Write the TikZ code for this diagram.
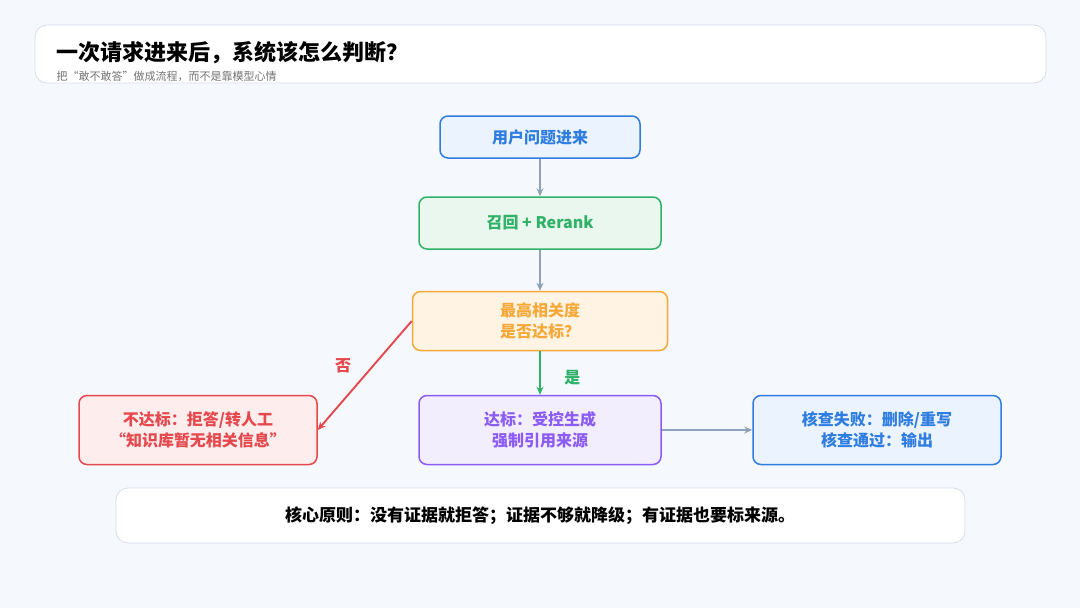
\documentclass[tikz,border=0pt]{standalone}
\usepackage{fontspec}
\setmainfont{Noto Sans CJK SC}
\usetikzlibrary{arrows.meta,positioning}
\definecolor{bgc}{HTML}{F5F8FC}
\definecolor{edgec}{HTML}{D5DEEA}
\definecolor{bluec}{HTML}{2F7DE1}
\definecolor{bluef}{HTML}{EAF3FE}
\definecolor{greenc}{HTML}{2FB268}
\definecolor{greenf}{HTML}{EAF7EE}
\definecolor{orangec}{HTML}{F5A93B}
\definecolor{orangef}{HTML}{FFF4E3}
\definecolor{redc}{HTML}{E5484D}
\definecolor{redf}{HTML}{FDEDED}
\definecolor{purplec}{HTML}{8B5CF6}
\definecolor{purplef}{HTML}{F3EEFE}
\definecolor{grayc}{HTML}{8FA3B8}
\begin{document}
\begin{tikzpicture}
    [   x=1pt, y=-1pt
    ,   stage/.style =
        {   draw
        ,   rounded corners=8pt
        ,   line width=1.5pt
        ,   align=center
        ,   font=\bfseries\fontsize{16}{21}\selectfont
        ,   inner sep=0pt
        }
    ,   flow/.style =
        {   -{Stealth[length=8pt,width=7pt]}
        ,   line width=1.9pt
        ,   draw=grayc
        }
    ,   panel/.style =
        {   draw=edgec
        ,   fill=white
        ,   rounded corners=12pt
        ,   line width=0.8pt
        }
    ]
    \fill[bgc] (0,0) rectangle (1080,608);
    \useasboundingbox (0,0) rectangle (1080,608);

    %% header
    \draw[panel] (35,25) rectangle (1046,83);
    \node (title) at (53,53) [anchor=west,font=\bfseries\fontsize{22}{24}\selectfont]
        {一次请求进来后，系统该怎么判断？};
    \node (subtitle) at (53,76) [anchor=west,text=gray!90!black,font=\fontsize{11}{12}\selectfont]
        {把“敢不敢答”做成流程，而不是靠模型心情};

    %% flow
    \node (ask) at (540,137) [stage,draw=bluec,fill=bluef,text=bluec,
        minimum width=200pt,minimum height=42pt] {用户问题进来};
    \node (recall) at (540,223) [stage,draw=greenc,fill=greenf,text=greenc,
        minimum width=242pt,minimum height=52pt] {召回 + Rerank};
    \node (check) at (540,321) [stage,draw=orangec,fill=orangef,text=orangec,
        minimum width=255pt,minimum height=59pt] {最高相关度\\是否达标？};
    \node (reject) at (198,430) [stage,draw=redc,fill=redf,text=redc,
        minimum width=238pt,minimum height=69pt] {不达标：拒答/转人工\\“知识库暂无相关信息”};
    \node (answer) at (540,430) [stage,draw=purplec,fill=purplef,text=purplec,
        minimum width=242pt,minimum height=69pt] {达标：受控生成\\强制引用来源};
    \node (verify) at (877,430) [stage,draw=bluec,fill=bluef,text=bluec,
        minimum width=248pt,minimum height=69pt] {核查失败：删除/重写\\核查通过：输出};

    \draw[flow] (ask) -- (recall);
    \draw[flow] (recall) -- (check);
    \draw[flow,draw=greenc] (check) -- (answer)
        node[pos=0.6,right=20pt,text=greenc,font=\bfseries\fontsize{16}{18}\selectfont] {是};
    \draw[flow,draw=redc] (check.west) -- (reject.east)
        node[pos=0.45,left=14pt,yshift=4pt,text=redc,font=\bfseries\fontsize{16}{18}\selectfont] {否};
    \draw[flow] (answer) -- (verify);

    %% footer
    \draw[panel] (116,488) rectangle (965,543);
    \node (rule) at (540,516) [font=\bfseries\fontsize{17}{20}\selectfont]
        {核心原则：没有证据就拒答；证据不够就降级；有证据也要标来源。};
\end{tikzpicture}
\end{document}
